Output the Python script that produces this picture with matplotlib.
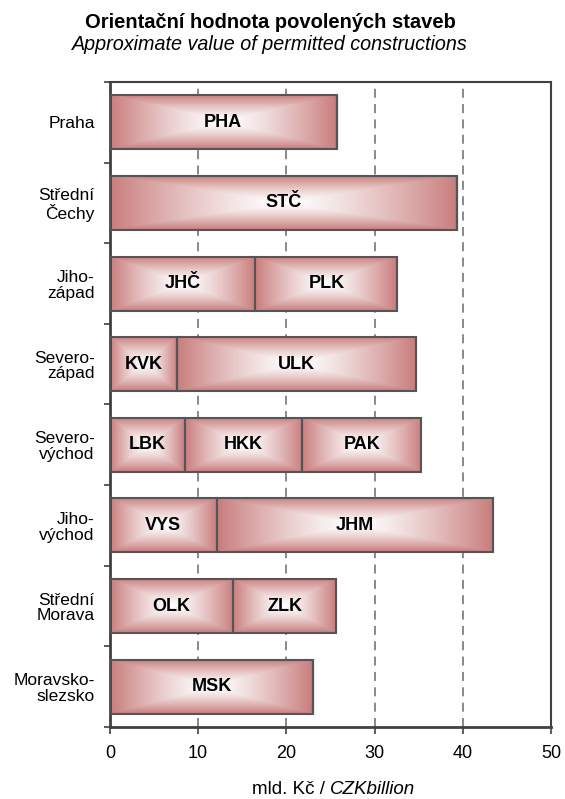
import numpy as np
import matplotlib
matplotlib.use('Agg')
from matplotlib import pyplot as plt

plt.rcParams['font.family'] = ['Liberation Sans', 'DejaVu Sans']

# regions (top to bottom) and their stacked segments
regions = ['Praha', 'Střední\nČechy', 'Jiho-\nzápad', 'Severo-\nzápad',
           'Severo-\nvýchod', 'Jiho-\nvýchod', 'Střední\nMorava', 'Moravsko-\nslezsko']
seg1_labels = ['PHA', 'STČ', 'JHČ', 'KVK', 'LBK', 'VYS', 'OLK', 'MSK']
seg1_values = [25.7, 39.4, 16.5, 7.6, 8.5, 12.1, 14.0, 23.0]
seg2_labels = ['', '', 'PLK', 'ULK', 'HKK', 'JHM', 'ZLK', '']
seg2_values = [0, 0, 16.1, 27.1, 13.3, 31.3, 11.6, 0]
seg3_labels = ['', '', '', '', 'PAK', '', '', '']
seg3_values = [0, 0, 0, 0, 13.5, 0, 0, 0]
xticks = [0, 10, 20, 30, 40, 50]

red = np.array([201, 125, 125]) / 255.0
white = np.array([1.0, 1.0, 1.0])


def box_gradient(nx=240, ny=60):
    # rectangular "from centre" gradient: white in the middle, red at the edges
    xx, yy = np.meshgrid(np.linspace(-1, 1, nx), np.linspace(-1, 1, ny))
    t = np.maximum(np.abs(xx), np.abs(yy))
    f = np.clip(t, 0, 1) ** 1.3
    return white * (1 - f[..., None]) + red * f[..., None]


grad = box_gradient()

fig = plt.figure(figsize=(5.65, 7.99), dpi=100)
ax = fig.add_axes([0.1947, 0.0901, 0.7803, 0.8073])

y = np.arange(len(regions))
h = 0.67

# dashed grid behind the bars
for gx in xticks[1:-1]:
    ax.axvline(gx, color='#808080', lw=1.3, ls=(0, (5, 3.5)), zorder=0)

left = np.zeros(len(regions))
for vals, labs in [(seg1_values, seg1_labels), (seg2_values, seg2_labels),
                   (seg3_values, seg3_labels)]:
    vals = np.array(vals, dtype=float)
    bars = ax.barh(y, vals, h, left=left, facecolor='none',
                   edgecolor='#555555', linewidth=1.5, zorder=3)
    for b, v, lab in zip(bars, vals, labs):
        if v <= 0:
            continue
        x0, y0 = b.get_x(), b.get_y()
        w, bh = b.get_width(), b.get_height()
        im = ax.imshow(grad, extent=(x0, x0 + w, y0 + bh, y0), aspect='auto',
                       interpolation='bilinear', zorder=2)
        im.set_clip_path(b)
        ax.text(x0 + w / 2, y0 + bh / 2, lab, ha='center', va='center',
                fontsize=13, fontweight='bold', zorder=4)
    left = left + vals

ax.set_xlim(0, 50)
ax.set_ylim(len(regions) - 0.5, -0.5)
ax.set_xticks(xticks)
ax.set_xticklabels([str(v) for v in xticks], fontsize=13)
ax.set_yticks(y)
ax.set_yticklabels(regions, fontsize=12.5, ha='right')
for t in ax.get_yticklabels():
    t.set_linespacing(1.05)
ax.set_yticks(np.arange(-0.5, len(regions)), minor=True)
ax.tick_params(axis='y', which='major', length=0, pad=11)
ax.tick_params(axis='y', which='minor', length=4, width=1.2, color='#404040')
ax.tick_params(axis='x', length=5, width=1.2, color='#404040', pad=8)

for s in ['left', 'bottom']:
    ax.spines[s].set_linewidth(2)
    ax.spines[s].set_color('#404040')
for s in ['top', 'right']:
    ax.spines[s].set_linewidth(1.5)
    ax.spines[s].set_color('#404040')

fig.text(0.478, 0.972, 'Orientační hodnota povolených staveb', ha='center',
         va='center', fontsize=14.5, fontweight='bold')
fig.text(0.478, 0.944, 'Approximate value of permitted constructions', ha='center',
         va='center', fontsize=14.2, style='italic')

fig.text(0.584, 0.006, 'mld. Kč / ', ha='right', va='baseline', fontsize=13.5)
fig.text(0.584, 0.006, 'CZKbillion', ha='left', va='baseline', fontsize=13.5,
         style='italic')

fig.savefig('out.png', dpi=100)
